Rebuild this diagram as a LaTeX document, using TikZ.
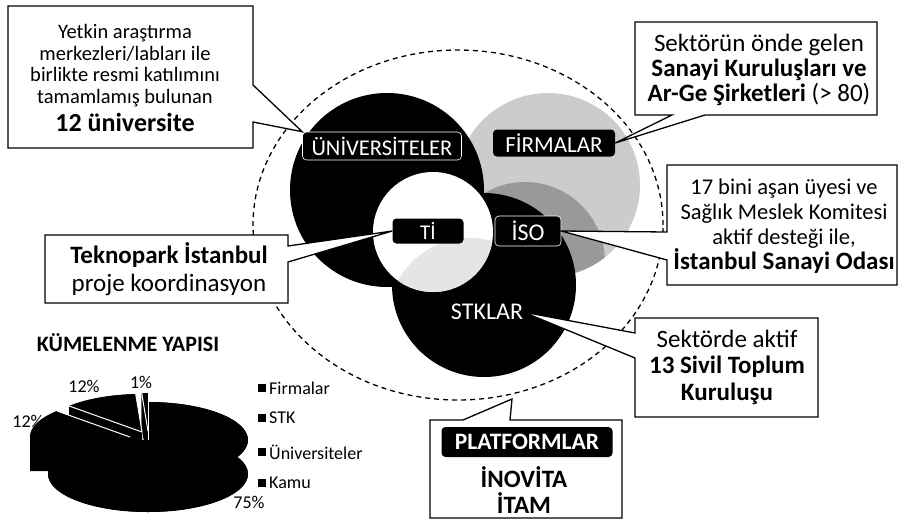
\documentclass[tikz,border=0pt]{standalone}
\usepackage{fontspec}
\setmainfont{Carlito}
\newcommand\fsz[2]{\fontsize{#1}{#2}\selectfont}
\newcommand{\pslice}[4]{%
 \fill[black] (#3,#4) -- ++(#1:100pt and 38pt) arc[start angle=#1,end angle=#2,x radius=100pt,y radius=38pt] -- cycle;
 \fill[black] (#3,#4-34) -- ++(#1:100pt and 38pt) arc[start angle=#1,end angle=#2,x radius=100pt,y radius=38pt] -- cycle;
 \fill[black] (#3,#4) ++(#1:100pt and 38pt) arc[start angle=#1,end angle=#2,x radius=100pt,y radius=38pt] -- ++(0,-34) arc[start angle=#2,end angle=#1,x radius=100pt,y radius=38pt] -- cycle;
 \fill[black] (#3,#4) -- ++(#1:100pt and 38pt) -- ++(0,-34) -- (#3,#4-34) -- cycle;
 \fill[black] (#3,#4) -- ++(#2:100pt and 38pt) -- ++(0,-34) -- (#3,#4-34) -- cycle;
}
\newcommand{\pedge}[3]{%
 \draw[white,line width=1pt] (#2,#3) -- ++(#1:100pt and 38pt);
}
\begin{document}
\begin{tikzpicture}[x=1pt,y=-1pt,
  callout/.style={draw=black, fill=white, line width=1.3pt, line join=miter},
  lbl/.style={fill=black, rounded corners=4pt, text=white, inner sep=0pt},
  ctext/.style={align=center, text=black, inner sep=0pt},
  legsq/.style={fill=black},
  pielbl/.style={inner sep=0pt, font=\fsz{18}{18}},
  legtxt/.style={anchor=west, inner sep=0pt, font=\fsz{18}{18}},
]
\useasboundingbox (0,0) rectangle (902,520);

% ---- circles
\fill[gray!40] (548,185) circle[radius=92pt];
\begin{scope}
 \clip (548,185) circle[radius=92pt];
 \fill[gray!80] (525,262) circle[radius=80pt];
\end{scope}
\fill[black] (387,190) circle[radius=97pt];
\fill[black] (484,285) circle[radius=92pt];
\fill[white] (433,232) circle[radius=60pt];
\begin{scope}
 \clip (433,232) circle[radius=60pt];
 \fill[gray!20] (470,320) circle[radius=82pt];
\end{scope}

% ---- dashed boundary
\draw[line width=1.3pt, dash pattern=on 5pt off 4pt] (458,225) ellipse[x radius=205pt, y radius=175pt];
\coordinate (plt) at (512,399);

% ---- labels on circles
\node[lbl, minimum width=159pt, minimum height=28pt, draw=white, line width=0.6pt, font=\fsz{22.5}{22}] (univ) at (382,146) {ÜNİVERSİTELER};
\node[lbl, minimum width=122pt, minimum height=27pt, font=\fsz{23}{22}] (firm) at (554,143) {FİRMALAR};
\node[lbl, minimum width=71pt, minimum height=25pt, font=\fsz{21}{20}] (ti) at (428,231) {Tİ};
\node[lbl, minimum width=66pt, minimum height=30pt, draw=white, line width=0.6pt, font=\fsz{24}{22}] (iso) at (528,231) {İSO};
\node[text=white, inner sep=0pt, font=\fsz{24}{22}] (stk) at (487,312) {STKLAR};

% ---- callouts
\draw[callout] (8,6) -- (253,6) -- (253,85) -- (univ.north west) -- (253,122) -- (253,148) -- (8,148) -- cycle;
\node[ctext, font=\fsz{20.5}{21.5}] (t1) at (125,78) {Yetkin araştırma\\merkezleri/labları ile\\birlikte resmi katılımını\\tamamlamış bulunan\\[5pt]{\fsz{26}{24}\bfseries 12 üniversite}};

\draw[callout] (635,22) -- (877,22) -- (877,115) -- (705,115) -- (firm.east) -- (672,115) -- (635,115) -- cycle;
\node[ctext, font=\fsz{25}{25}] (t2) at (759,70) {Sektörün önde gelen\\\bfseries Sanayi Kuruluşları ve\\{\bfseries Ar-Ge Şirketleri} (> 80)};

\draw[callout] (667,165) -- (897,165) -- (897,285) -- (667,285) -- (667,260) -- (iso.east) -- (667,232) -- cycle;
\node[ctext, font=\fsz{22.5}{25}] (t3) at (784,226) {17 bini aşan üyesi ve\\Sağlık Meslek Komitesi\\aktif desteği ile,\\{\fsz{25}{25}\bfseries İstanbul Sanayi Odası}};

\draw[callout] (45,235) -- (288,235) -- (288,246) -- (ti.west) -- (288,262) -- (288,303) -- (45,303) -- cycle;
\node[ctext, font=\fsz{25}{28}] (t4) at (169,269) {\bfseries Teknopark İstanbul\\proje koordinasyon};

\draw[callout] (635,318) -- (818,318) -- (818,417) -- (635,417) -- (635,358) -- (stk.east) -- (635,333) -- cycle;
\node[ctext, font=\fsz{25}{26.5}] (t5) at (727,367) {Sektörde aktif\\\bfseries 13 Sivil Toplum\\\bfseries Kuruluşu};

\draw[callout] (430,420) -- (463,420) -- (plt) -- (510,420) -- (622,420) -- (622,518) -- (430,518) -- cycle;
\node[lbl, minimum width=171pt, minimum height=30pt, font=\fsz{23.5}{22}\bfseries] (plat) at (527,442) {PLATFORMLAR};
\node[ctext, font=\fsz{25}{26}\bfseries] (t6) at (524,490) {İNOVİTA\\İTAM};

% ---- pie chart
\node[inner sep=0pt, font=\fsz{22}{22}\bfseries] (ptitle) at (128,343) {KÜMELENME YAPISI};
\begin{scope}[shift={(148pt,-440pt)}, x=1pt, y=1pt]
 \pslice{93.6}{136.8}{-6}{8}
 \pslice{90}{93.6}{0}{9}
 \pslice{136.8}{180}{-18}{3}
 \pslice{-180}{90}{0}{0}
 \pedge{136.8}{-6}{8}
 \pedge{93.6}{-6}{8}
 \pedge{93.6}{0}{9}
 \pedge{90}{0}{9}
 \pedge{90}{0}{0}
 \pedge{136.8}{-18}{3}
\end{scope}
\node[pielbl] (p1) at (84,386) {12\%};
\node[pielbl] (p2) at (141,382) {1\%};
\node[pielbl] (p3) at (28,421) {12\%};
\node[pielbl] (p4) at (249,502) {75\%};

\fill[legsq] (258,384) rectangle ++(8,8);
\node[legtxt] (l1) at (269,388) {Firmalar};
\fill[legsq] (258,414) rectangle ++(8,8);
\node[legtxt] (l2) at (269,418) {STK};
\fill[legsq] (258,448) rectangle ++(8,8);
\node[legtxt] (l3) at (269,452) {Üniversiteler};
\fill[legsq] (258,479) rectangle ++(8,8);
\node[legtxt] (l4) at (269,483) {Kamu};
\end{tikzpicture}
\end{document}
